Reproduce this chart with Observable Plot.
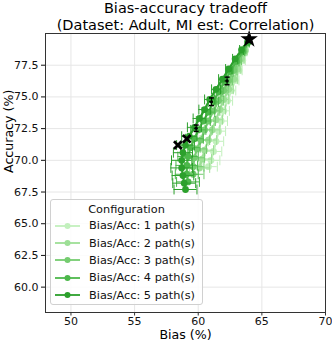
<!DOCTYPE html>
<html>
<head>
<meta charset="utf-8">
<script src="https://cdn.jsdelivr.net/npm/d3@7"></script>
<script src="https://cdn.jsdelivr.net/npm/@observablehq/plot@0.6"></script>
<style>
  body { margin: 0; background: #fff; font-family: "DejaVu Sans", sans-serif; }
  #wrap { position: relative; width: 332px; height: 345px; }
  #legend { position: absolute; left: 50px; top: 199px; width: 153px; height: 106px; box-sizing: border-box;
    background: rgba(255,255,255,0.85); border: 1px solid #d0d0d0; border-radius: 3px; font-size: 11.3px; color: #111; }
  #legend .ttl { height: 17px; line-height: 19px; text-align: center; }
  #legend .row { height: 17.35px; display: flex; align-items: center; }
  #legend svg { margin-left: 4px; margin-right: 9px; }
</style>
</head>
<body>
<div id="wrap"><div id="legend"></div></div>
<script>
// ---- data ----
const seriesNames = ["Bias/Acc: 1 path(s)", "Bias/Acc: 2 path(s)", "Bias/Acc: 3 path(s)", "Bias/Acc: 4 path(s)", "Bias/Acc: 5 path(s)"];
const seriesColors = ["#c2f0bd", "#9ddf96", "#75cc70", "#4db84b", "#2ca02c"];

const bias1 = [63.9, 63.7, 63.5, 63.2, 62.9, 62.6, 62.3, 62.0, 61.8, 61.6, 61.4, 61.2, 61.0, 60.8];
const acc1  = [79.3, 78.6, 77.9, 77.1, 76.3, 75.5, 74.7, 73.9, 73.1, 72.3, 71.5, 70.7, 70.0, 69.5];
const err1  = [0.1, 0.15, 0.2, 0.25, 0.3, 0.35, 0.4, 0.45, 0.5, 0.55, 0.6, 0.65, 0.7, 0.7];

const bias2 = [63.9, 63.7, 63.4, 63.1, 62.8, 62.4, 62.0, 61.7, 61.4, 61.1, 60.8, 60.5, 60.3, 60.1];
const acc2  = [79.3, 78.7, 78.0, 77.2, 76.4, 75.6, 74.8, 74.0, 73.2, 72.4, 71.6, 70.8, 70.1, 69.4];
const err2  = [0.1, 0.15, 0.2, 0.25, 0.3, 0.35, 0.4, 0.45, 0.5, 0.6, 0.65, 0.7, 0.75, 0.8];

const bias3 = [63.9, 63.6, 63.2, 62.8, 62.4, 62.0, 61.6, 61.2, 60.8, 60.5, 60.2, 59.9, 59.7, 59.6, 59.6];
const acc3  = [79.3, 78.6, 77.9, 77.1, 76.3, 75.5, 74.7, 73.9, 73.1, 72.4, 71.6, 70.9, 70.2, 69.5, 68.9];
const err3  = [0.1, 0.15, 0.2, 0.25, 0.3, 0.35, 0.4, 0.5, 0.55, 0.6, 0.7, 0.75, 0.8, 0.85, 0.85];

const bias4 = [63.9, 63.5, 63.0, 62.5, 62.1, 61.6, 61.2, 60.8, 60.4, 60.0, 59.7, 59.4, 59.2, 59.1, 59.1, 59.2];
const acc4  = [79.3, 78.6, 77.8, 77.0, 76.2, 75.4, 74.6, 73.8, 73.1, 72.4, 71.7, 71.0, 70.3, 69.6, 68.9, 68.3];
const err4  = [0.1, 0.15, 0.2, 0.25, 0.3, 0.35, 0.4, 0.5, 0.55, 0.6, 0.7, 0.75, 0.8, 0.85, 0.9, 0.9];

const bias5 = [63.9, 63.4, 62.9, 62.4, 61.9, 61.4, 60.9, 60.5, 60.1, 59.7, 59.3, 59.0, 58.8, 58.7, 58.7, 58.8, 58.9, 59.0];
const acc5  = [79.4, 78.7, 78.0, 77.2, 76.4, 75.6, 74.8, 74.0, 73.3, 72.6, 71.9, 71.2, 70.6, 70.0, 69.4, 68.8, 68.2, 67.7];
const err5  = [0.1, 0.15, 0.2, 0.25, 0.3, 0.35, 0.4, 0.45, 0.5, 0.55, 0.6, 0.7, 0.75, 0.8, 0.85, 0.85, 0.9, 0.9];

// black reference points
const refBias = [62.27, 61.04, 59.84];
const refAcc  = [76.26, 74.62, 72.53];
const refErrX = [0.15, 0.15, 0.15];
const refErrY = [0.3, 0.3, 0.25];
const xBias = [58.4, 59.1];
const xAcc  = [71.2, 71.7];
const starBias = [64.0];
const starAcc  = [79.55];

const xTicks = [50, 55, 60, 65, 70];
const yTicks = [60, 62.5, 65, 67.5, 70, 72.5, 75, 77.5];
const title = "Bias-accuracy tradeoff\n(Dataset: Adult, MI est: Correlation)";
const xLabel = "Bias (%)";
const yLabel = "Accuracy (%)";
const legendTitle = "Configuration";

// ---- build ----
const allBias = [bias1, bias2, bias3, bias4, bias5];
const allAcc = [acc1, acc2, acc3, acc4, acc5];
const allErr = [err1, err2, err3, err4, err5];
const tables = allBias.map((b, s) => b.map((v, i) => ({bias: v, acc: allAcc[s][i], err: allErr[s][i]})));
const refs = refBias.map((v, i) => ({bias: v, acc: refAcc[i], ex: refErrX[i], ey: refErrY[i]}));

const vcap = {draw(ctx, size) { const h = Math.sqrt(size); ctx.moveTo(0, -h); ctx.lineTo(0, h); }};
const hcap = {draw(ctx, size) { const h = Math.sqrt(size); ctx.moveTo(-h, 0); ctx.lineTo(h, 0); }};

const marks = [
  Plot.gridX(xTicks, {stroke: "#e6e6e6", strokeOpacity: 1}),
  Plot.gridY(yTicks, {stroke: "#e6e6e6", strokeOpacity: 1})
];
tables.forEach((t, s) => {
  const c = seriesColors[s];
  marks.push(
    Plot.ruleY(t, {y: "acc", x1: d => d.bias - d.err, x2: d => d.bias + d.err, stroke: c, strokeWidth: 1}),
    Plot.dot(t, {x: d => d.bias - d.err, y: "acc", symbol: vcap, r: 2.8, stroke: c, strokeWidth: 1}),
    Plot.dot(t, {x: d => d.bias + d.err, y: "acc", symbol: vcap, r: 2.8, stroke: c, strokeWidth: 1}),
    Plot.line(t, {x: "bias", y: "acc", stroke: c, strokeWidth: 2.2}),
    Plot.dot(t, {x: "bias", y: "acc", r: 3.4, fill: c})
  );
});
marks.push(
  Plot.ruleY(refs, {y: "acc", x1: d => d.bias - d.ex, x2: d => d.bias + d.ex, stroke: "#000", strokeWidth: 1}),
  Plot.ruleX(refs, {x: "bias", y1: d => d.acc - d.ey, y2: d => d.acc + d.ey, stroke: "#000", strokeWidth: 1}),
  Plot.dot(refs, {x: "bias", y: d => d.acc - d.ey, symbol: hcap, r: 1.4, stroke: "#000"}),
  Plot.dot(refs, {x: "bias", y: d => d.acc + d.ey, symbol: hcap, r: 1.4, stroke: "#000"}),
  Plot.dot(refs, {x: "bias", y: "acc", r: 1.6, fill: "#000"}),
  Plot.dot(xBias.map((v, i) => ({bias: v, acc: xAcc[i]})), {x: "bias", y: "acc", symbol: "times", r: 3.6, stroke: "#000", strokeWidth: 2.8}),
  Plot.dot(starBias.map((v, i) => ({bias: v, acc: starAcc[i]})), {x: "bias", y: "acc", symbol: "star", r: 5.5, fill: "#000"}),
  Plot.frame({stroke: "#333", strokeWidth: 1}),
  Plot.axisX({ticks: xTicks, tickSize: 3.5, tickPadding: 1.5, fontSize: 11, label: null, stroke: "#333"}),
  Plot.axisY({ticks: yTicks, tickSize: 4, tickPadding: 3, fontSize: 11, tickFormat: d3.format(".1f"), label: null}),
  Plot.text([title], {frameAnchor: "top", lineAnchor: "bottom", dy: -4, fontSize: 14.5, lineHeight: 1.17, fill: "#000"}),
  Plot.text([xLabel], {frameAnchor: "bottom", dy: 26.5, fontSize: 12.6, fill: "#000"}),
  Plot.text([yLabel], {frameAnchor: "left", dx: -37, rotate: -90, fontSize: 12.6, fill: "#000"})
);

const chart = Plot.plot({
  width: 332, height: 345,
  marginLeft: 45, marginRight: 7, marginTop: 33, marginBottom: 33,
  style: {fontFamily: "DejaVu Sans, sans-serif", color: "#111", background: "#fff"},
  x: {domain: [48, 70]},
  y: {domain: [58, 80]},
  marks
});
const wrap = document.getElementById("wrap");
wrap.insertBefore(chart, wrap.firstChild);

// legend
const lg = d3.select("#legend");
lg.append("div").attr("class", "ttl").text(legendTitle);
seriesNames.forEach((name, i) => {
  const row = lg.append("div").attr("class", "row");
  const sv = row.append("svg").attr("width", 25).attr("height", 10);
  sv.append("line").attr("x1", 0).attr("x2", 25).attr("y1", 5).attr("y2", 5).attr("stroke", seriesColors[i]).attr("stroke-width", 1.8);
  sv.append("circle").attr("cx", 12.5).attr("cy", 5).attr("r", 3).attr("fill", seriesColors[i]);
  row.append("span").text(name);
});
</script>
</body>
</html>
